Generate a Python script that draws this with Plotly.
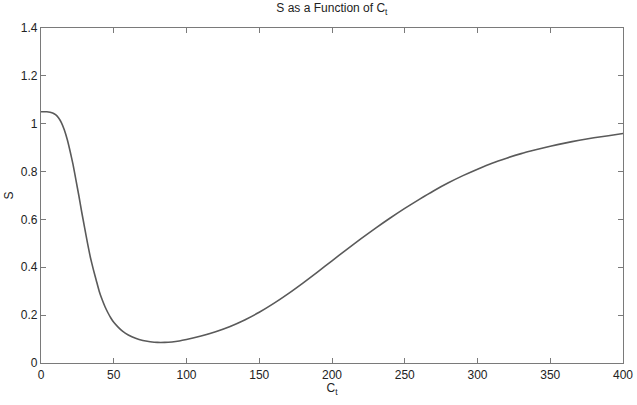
import plotly.graph_objects as go

C_t = [0, 4, 8, 10, 12, 14, 16, 18, 20, 22, 24, 26, 28, 30, 32, 34, 36, 38, 40, 42, 44,
       46, 48, 50, 53, 56, 60, 65, 70, 75, 80, 85, 90, 95, 100, 110, 120, 130, 140, 150,
       160, 170, 180, 190, 200, 210, 220, 230, 240, 250, 260, 270, 280, 290, 300, 310,
       320, 330, 340, 350, 360, 370, 380, 390, 400]
S = [1.05, 1.05, 1.045, 1.038, 1.025, 1.005, 0.975, 0.935, 0.885, 0.83, 0.765, 0.70,
     0.63, 0.565, 0.50, 0.44, 0.39, 0.345, 0.30, 0.265, 0.235, 0.21, 0.188, 0.17, 0.15,
     0.133, 0.117, 0.103, 0.094, 0.089, 0.086, 0.086, 0.088, 0.092, 0.098, 0.113, 0.131,
     0.153, 0.180, 0.212, 0.249, 0.290, 0.334, 0.380, 0.427, 0.474, 0.520, 0.564, 0.606,
     0.646, 0.684, 0.720, 0.753, 0.783, 0.810, 0.835, 0.856, 0.875, 0.891, 0.906, 0.919,
     0.931, 0.941, 0.950, 0.959]

x_ticks = [0, 50, 100, 150, 200, 250, 300, 350, 400]
y_ticks = [0, 0.2, 0.4, 0.6, 0.8, 1, 1.2, 1.4]
y_tick_text = ["0", "0.2", "0.4", "0.6", "0.8", "1", "1.2", "1.4"]

FONT = "Liberation Sans, Arial, Helvetica"

fig = go.Figure()
fig.add_trace(go.Scatter(x=C_t, y=S, mode="lines",
                         line=dict(color="#5a5a5a", width=1.6, shape="spline", smoothing=0.5),
                         showlegend=False))

axis_common = dict(showline=True, linecolor="#7a7a7a", linewidth=1.2, mirror="ticks",
                   ticks="inside", ticklen=5, tickcolor="#7a7a7a", showgrid=False,
                   zeroline=False, automargin=False,
                   tickfont=dict(family=FONT, size=12, color="#222"))

fig.update_layout(
    width=637, height=405,
    margin=dict(l=41, r=14, t=28, b=42, autoexpand=False),
    paper_bgcolor="white", plot_bgcolor="white",
    title=dict(text="S as a Function of C<sub>t</sub>", x=0.521, xanchor="center",
               y=0.99, yanchor="top",
               font=dict(family=FONT, size=12, color="#222")),
    xaxis=dict(range=[0, 400], tickvals=x_ticks, ticktext=[str(v) for v in x_ticks],
               title=dict(text="C<sub>t</sub>", standoff=0,
                          font=dict(family=FONT, size=12, color="#222")),
               **axis_common),
    yaxis=dict(range=[0, 1.4], tickvals=y_ticks, ticktext=y_tick_text,
               title=dict(text="S", standoff=4,
                          font=dict(family=FONT, size=12, color="#222")),
               **axis_common),
)

fig.write_html("out.html")
